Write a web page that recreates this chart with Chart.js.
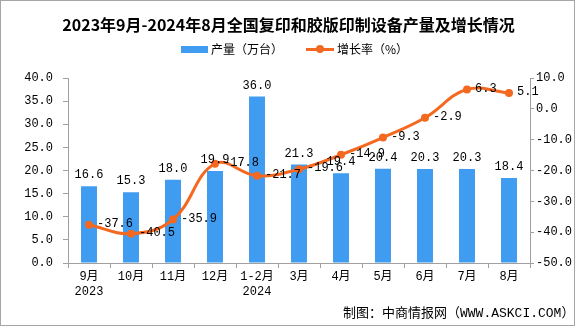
<!DOCTYPE html>
<html>
<head>
<meta charset="utf-8">
<script src="https://cdn.jsdelivr.net/npm/chart.js@4.4.1/dist/chart.umd.min.js"></script>
<style>
  html, body { margin: 0; padding: 0; background: #fff; }
  #wrap {
    position: relative; width: 575px; height: 326px;
    box-sizing: border-box; border: 1px solid #A6A6A6; overflow: hidden;
    font-family: 'Liberation Mono', 'Noto Sans CJK SC', monospace;
  }
  #chart { position: absolute; left: 0; top: 0; }
  .title {
    position: absolute; left: 0; top: 12px; width: 575px; text-align: center;
    font: bold 16px 'Noto Sans CJK SC', sans-serif; color: #000; line-height: 22px;
  }
  .legend {
    position: absolute; top: 40px; left: 0; width: 575px; height: 16px;
    font: 12px 'Noto Sans CJK SC', sans-serif; color: #000;
  }
  .legend span { position: absolute; top: 0; line-height: 16px; }
  .footer {
    position: absolute; left: 342px; top: 301px; line-height: 18px;
    font: 13px 'Liberation Mono', 'Noto Sans CJK SC', monospace; color: #000;
  }
</style>
</head>
<body>
<div id="wrap">
  <canvas id="chart" width="575" height="326"></canvas>
  <div class="title">2023年9月-2024年8月全国复印和胶版印制设备产量及增长情况</div>
  <div class="legend">
    <span style="left:180px;top:5px;width:27px;height:7px;background:#3F9CF0;"></span>
    <span style="left:210px;">产量（万台）</span>
    <span style="left:305px;top:7px;width:28px;height:3px;background:#F4681F;"></span>
    <span style="left:315px;top:4px;width:8px;height:8px;border-radius:50%;background:#F4681F;"></span>
    <span style="left:336px;">增长率（%）</span>
  </div>
  <div class="footer">制图：中商情报网（WWW.ASKCI.COM）</div>
</div>
<script>
  // ── Data ───────────────────────────────────────────────
  const months     = [['9月', '2023'], '10月', '11月', '12月', ['1-2月', '2024'], '3月', '4月', '5月', '6月', '7月', '8月'];
  const output     = [16.6, 15.3, 18.0, 19.9, 36.0, 21.3, 19.4, 20.4, 20.3, 20.3, 18.4];
  const growthRate = [-37.6, -40.5, -35.9, -17.8, -21.7, -19.6, -14.9, -9.3, -2.9, 6.3, 5.1];

  const BAR_COLOR  = '#3F9CF0';
  const LINE_COLOR = '#F4681F';
  const AXIS_COLOR = '#A0A0A0';
  const NUM_FONT   = "12px 'Liberation Mono', monospace";

  // ── Value labels ───────────────────────────────────────
  const valueLabels = {
    id: 'valueLabels',
    afterDatasetsDraw(chart) {
      const ctx = chart.ctx;
      ctx.save();
      ctx.font = NUM_FONT;
      ctx.fillStyle = '#000';

      chart.getDatasetMeta(0).data.forEach((bar, i) => {
        ctx.textAlign = 'center';
        ctx.textBaseline = 'bottom';
        ctx.fillText(output[i].toFixed(1), bar.x, bar.y - 5);
      });

      chart.getDatasetMeta(1).data.forEach((pt, i) => {
        ctx.textAlign = 'left';
        ctx.textBaseline = 'middle';
        ctx.fillText(growthRate[i].toFixed(1), pt.x + 8, pt.y - 1);
      });
      ctx.restore();
    }
  };

  new Chart(document.getElementById('chart'), {
    data: {
      labels: months,
      datasets: [
        {
          type: 'bar',
          label: '产量（万台）',
          data: output,
          yAxisID: 'y',
          backgroundColor: BAR_COLOR,
          barPercentage: 0.76,
          categoryPercentage: 0.5,
          order: 2,
        },
        {
          type: 'line',
          label: '增长率（%）',
          data: growthRate,
          yAxisID: 'y1',
          borderColor: LINE_COLOR,
          backgroundColor: LINE_COLOR,
          borderWidth: 3,
          pointRadius: 4,
          pointBackgroundColor: LINE_COLOR,
          pointBorderWidth: 0,
          tension: 0.4,
          order: 1,
        }
      ]
    },
    options: {
      responsive: false,
      animation: false,
      layout: { padding: { left: 0, right: 0, top: 77, bottom: 0 } },
      plugins: {
        legend: { display: false },
        tooltip: { enabled: false },
      },
      scales: {
        x: {
          border: { color: AXIS_COLOR, width: 1 },
          grid: { display: true, drawOnChartArea: false, drawTicks: true, tickLength: 5, color: AXIS_COLOR, offset: true },
          ticks: { color: '#000', font: { family: "'Liberation Mono', 'Noto Sans CJK SC', monospace", size: 12, lineHeight: '15px' }, padding: 1, maxRotation: 0, autoSkip: false },
          afterFit: s => { s.height = 64; },
        },
        y: {
          position: 'left',
          min: 0, max: 40,
          border: { color: AXIS_COLOR, width: 1 },
          grid: { drawOnChartArea: false, drawTicks: true, tickLength: 5, color: AXIS_COLOR },
          ticks: { stepSize: 5, color: '#000', font: { family: "'Liberation Mono', monospace", size: 12 }, padding: 10, callback: v => v.toFixed(1) },
          afterFit: s => { s.width = 67; },
        },
        y1: {
          position: 'right',
          min: -50, max: 10,
          border: { color: AXIS_COLOR, width: 1 },
          grid: { drawOnChartArea: false, drawTicks: true, tickLength: 4, color: AXIS_COLOR },
          ticks: { stepSize: 10, color: '#000', font: { family: "'Liberation Mono', monospace", size: 12 }, padding: 2, callback: v => v.toFixed(1) },
          afterFit: s => { s.width = 46; },
        }
      }
    },
    plugins: [valueLabels]
  });
</script>
</body>
</html>
